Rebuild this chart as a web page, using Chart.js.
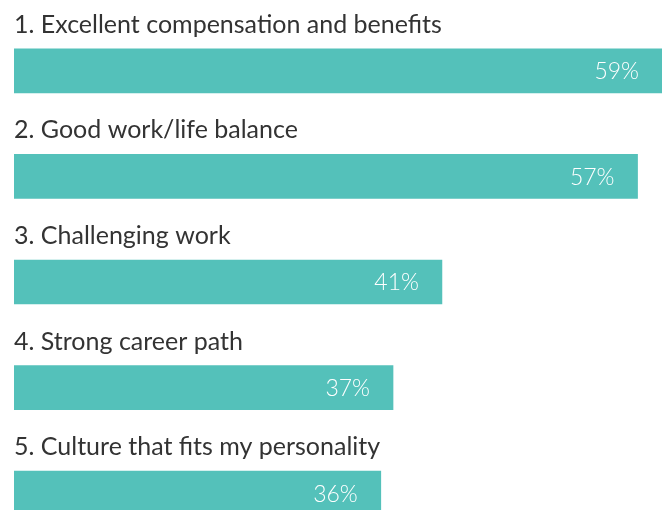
<!DOCTYPE html>
<html>
<head>
<meta charset="utf-8">
<script src="https://cdn.jsdelivr.net/npm/chart.js@4"></script>
<style>
  html, body { margin: 0; padding: 0; background: #fff; overflow: hidden; }
  #wrap { width: 662px; height: 546px; }
</style>
</head>
<body>
<div id="wrap"><canvas id="myChart"></canvas></div>
<script>
// data
var categories = [
  '1. Excellent compensation and benefits',
  '2. Good work/life balance',
  '3. Challenging work',
  '4. Strong career path',
  '5. Culture that fits my personality'
];
var percents = [59, 57, 41, 37, 36];

var barColor = '#54c1ba';

// draws the title over each bar and the % inside its end
var barLabels = {
  id: 'barLabels',
  afterDatasetsDraw: function(chart) {
    var c = chart.ctx;
    var meta = chart.getDatasetMeta(0);
    c.save();
    meta.data.forEach(function(bar, i) {
      var top = bar.y - bar.height / 2;
      c.fillStyle = '#333333';
      c.font = '400 25px Lato';
      c.textAlign = 'left';
      c.textBaseline = 'alphabetic';
      c.fillText(categories[i], 14, top - 16);

      c.fillStyle = '#ffffff';
      c.font = '300 23px Lato';
      c.textAlign = 'right';
      c.textBaseline = 'middle';
      c.fillText(percents[i] + '%', bar.x - 23, bar.y + 1);
    });
    c.restore();
  }
};

const ctx = document.getElementById('myChart');

const chart = new Chart(ctx, {
  type: 'bar',
  data: {
    labels: categories,
    datasets: [{
      data: percents,
      backgroundColor: barColor,
      barThickness: 44
    }]
  },
  options: {
    indexAxis: 'y',
    responsive: true,
    maintainAspectRatio: false,
    animation: false,
    layout: { padding: { left: 14, top: 18, right: 0, bottom: 0 } },
    plugins: {
      legend: { display: false },
      tooltip: { enabled: false }
    },
    scales: {
      x: { display: false, min: 6, max: 59 },
      y: { display: false }
    }
  },
  plugins: [barLabels]
});
</script>
</body>
</html>
